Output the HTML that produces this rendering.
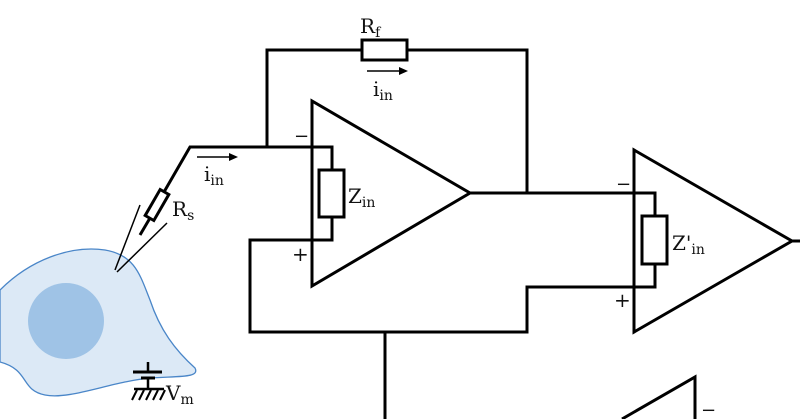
<!DOCTYPE html><html><head><style>body{margin:0;background:#fff}svg{display:block}text{font-family:"DejaVu Serif","Liberation Serif",serif;fill:#111}</style></head><body>
<svg width="800" height="419" viewBox="0 0 800 419" xmlns="http://www.w3.org/2000/svg">
<path d="M0,290 C30,260 70,245 105,250 C135,255 140,275 150,300 C160,330 175,350 195,368 C200,378 180,376 150,378 C110,382 70,400 45,395 C20,390 30,370 0,362 Z" fill="#dce9f6" stroke="#4a86c8" stroke-width="1.3"/>
<circle cx="66" cy="321" r="38" fill="#9fc3e6"/>
<g stroke="#000" stroke-width="3" fill="none">
<polyline points="164,192 190,147 332,147 332,170"/>
<rect x="319" y="170" width="25" height="47"/>
<polyline points="332,217 332,240 250,240 250,332 527,332 527,287 655,287 655,265"/>
<rect x="642" y="216" width="25" height="48"/>
<polyline points="655,216 655,193 470,193"/>
<polyline points="267,147 267,50 362,50"/>
<rect x="362" y="40" width="45" height="20"/>
<polyline points="407,50 527,50 527,193"/>
<polygon points="312,101 312,286 470,193"/>
<polygon points="634,150 634,332 792,241"/>
<line x1="792" y1="241" x2="800" y2="241"/>
<line x1="385" y1="332" x2="385" y2="419"/>
<polyline points="622,419 695,377 695,419"/>
<g transform="translate(157,205) rotate(30)"><rect x="-5" y="-15" width="10" height="30"/></g>
<line x1="150" y1="218" x2="140" y2="235" />
<line x1="148" y1="362" x2="148" y2="372" stroke-width="2.5"/>
<line x1="133" y1="372" x2="162" y2="372"/>
<line x1="141" y1="378" x2="155" y2="378"/>
<line x1="148" y1="378" x2="148" y2="389" stroke-width="2.5"/>
<line x1="134" y1="389" x2="164" y2="389" stroke-width="2.5"/>
</g>
<g stroke="#000" stroke-width="2">
<line x1="140" y1="205" x2="115" y2="270" stroke-width="1.5"/>
<line x1="167" y1="223" x2="117" y2="272" stroke-width="1.5"/>
<line x1="137" y1="390" x2="132" y2="400"/><line x1="144" y1="390" x2="139" y2="400"/><line x1="151" y1="390" x2="146" y2="400"/><line x1="158" y1="390" x2="153" y2="400"/><line x1="165" y1="390" x2="160" y2="400"/>
<line x1="197" y1="157" x2="230" y2="157" stroke-width="1.5"/>
<line x1="367" y1="71" x2="400" y2="71" stroke-width="1.5"/>
</g>
<polygon points="238,157 229,153 229,161" fill="#000"/>
<polygon points="408,71 399,67 399,75" fill="#000"/>
<text x="360" y="33" font-size="20">R<tspan font-size="14" dy="4">f</tspan></text>
<text x="373" y="96" font-size="20">i<tspan font-size="14" dy="4">in</tspan></text>
<text x="204" y="181" font-size="20">i<tspan font-size="14" dy="4">in</tspan></text>
<text x="172" y="216" font-size="20">R<tspan font-size="14" dy="4">s</tspan></text>
<text x="166" y="400" font-size="20">V<tspan font-size="14" dy="4">m</tspan></text>
<text x="348" y="203" font-size="20">Z<tspan font-size="14" dy="4">in</tspan></text>
<text x="672" y="250" font-size="20">Z'<tspan font-size="14" dy="4">in</tspan></text>
<text x="294" y="142" font-size="18">−</text>
<text x="292" y="261" font-size="20">+</text>
<text x="616" y="190" font-size="18">−</text>
<text x="614" y="307" font-size="20">+</text>
<text x="701" y="416" font-size="18">−</text>
</svg></body></html>
